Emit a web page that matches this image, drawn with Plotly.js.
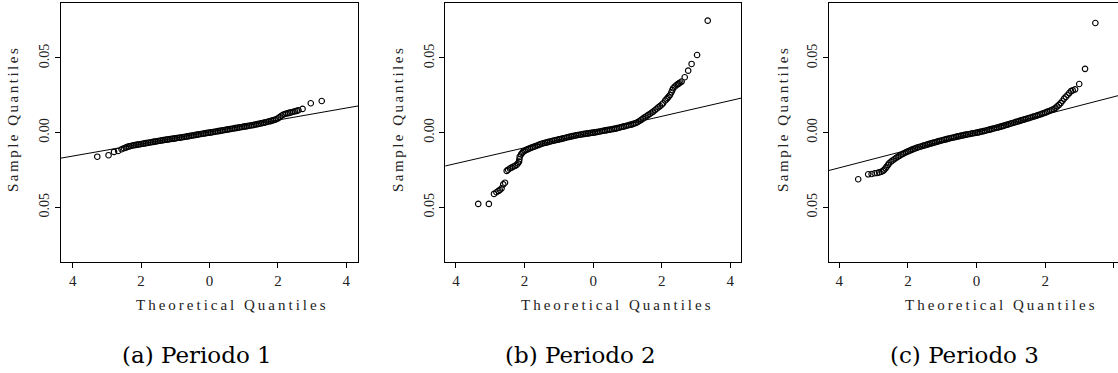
<!DOCTYPE html>
<html>
<head>
<meta charset="utf-8">
<script src="https://cdn.plot.ly/plotly-3.0.1.min.js"></script>
<style>html,body{margin:0;padding:0;background:#fff;overflow:hidden;}#chart{width:1118px;height:373px;}</style>
</head>
<body>
<div id="chart"></div>
<script>
// ---- Data: [theoretical quantile, sample quantile] ----
const period1 = [
  [-3.28,-0.0161],[-2.95,-0.0151],[-2.79,-0.0129],[-2.67,-0.0123],[-2.57,-0.0111],[-2.5,-0.0104],
  [-2.45,-0.0100],[-2.4,-0.0095],[-2.35,-0.0092],[-2.3,-0.0089],[-2.25,-0.0086],[-2.2,-0.0084],
  [-2.15,-0.0082],[-2.1,-0.0080],[-2.05,-0.0078],[-2.0,-0.0076],[-1.95,-0.0074],[-1.9,-0.0072],
  [-1.85,-0.0070],[-1.8,-0.0068],[-1.75,-0.0066],[-1.7,-0.0064],[-1.65,-0.0062],[-1.6,-0.0060],
  [-1.55,-0.0058],[-1.5,-0.0056],[-1.45,-0.0054],[-1.4,-0.0052],[-1.35,-0.0050],[-1.3,-0.0048],
  [-1.25,-0.0047],[-1.2,-0.0045],[-1.15,-0.0043],[-1.1,-0.0041],[-1.05,-0.0040],[-1.0,-0.0038],
  [-0.95,-0.0036],[-0.9,-0.0034],[-0.85,-0.0033],[-0.8,-0.0031],[-0.75,-0.0029],[-0.7,-0.0027],
  [-0.65,-0.0025],[-0.6,-0.0023],[-0.55,-0.0021],[-0.5,-0.0019],[-0.45,-0.0017],[-0.4,-0.0015],
  [-0.35,-0.0013],[-0.3,-0.0011],[-0.25,-0.0009],[-0.2,-0.0007],[-0.15,-0.0005],[-0.1,-0.0003],
  [-0.05,-0.0001],[0,0.0000],[0.05,0.0002],[0.1,0.0004],[0.15,0.0006],[0.2,0.0008],
  [0.25,0.0010],[0.3,0.0012],[0.35,0.0014],[0.4,0.0016],[0.45,0.0018],[0.5,0.0020],
  [0.55,0.0022],[0.6,0.0024],[0.65,0.0026],[0.7,0.0028],[0.75,0.0030],[0.8,0.0032],
  [0.85,0.0034],[0.9,0.0036],[0.95,0.0038],[1.0,0.0040],[1.05,0.0042],[1.1,0.0044],
  [1.15,0.0046],[1.2,0.0048],[1.25,0.0050],[1.3,0.0052],[1.35,0.0055],[1.4,0.0057],
  [1.45,0.0060],[1.5,0.0062],[1.55,0.0065],[1.6,0.0067],[1.65,0.0070],[1.7,0.0073],
  [1.75,0.0076],[1.8,0.0079],[1.85,0.0082],[1.9,0.0086],[1.95,0.0090],[2.0,0.0096],
  [2.05,0.0104],[2.1,0.0113],[2.15,0.0120],[2.2,0.0125],[2.25,0.0128],[2.3,0.0131],
  [2.35,0.0134],[2.4,0.0137],[2.45,0.0140],[2.5,0.0143],[2.55,0.0146],[2.6,0.0150],
  [2.72,0.0159],[2.96,0.0197],[3.28,0.0212]
];

const period2 = [
  [-3.35,-0.0477],[-3.04,-0.0477],[-2.89,-0.0410],[-2.82,-0.0399],[-2.76,-0.0390],[-2.72,-0.0384],
  [-2.67,-0.0373],[-2.62,-0.0346],[-2.57,-0.0335],[-2.52,-0.0256],[-2.48,-0.0248],[-2.43,-0.0240],
  [-2.38,-0.0234],[-2.33,-0.0228],[-2.28,-0.0222],[-2.23,-0.0216],[-2.19,-0.0205],[-2.16,-0.0194],
  [-2.15,-0.0178],[-2.14,-0.0161],[-2.10,-0.0145],[-2.07,-0.0136],[-2.04,-0.0127],[-2.0,-0.0122],
  [-1.95,-0.0115],[-1.9,-0.0110],[-1.85,-0.0105],[-1.8,-0.0100],[-1.75,-0.0096],[-1.7,-0.0092],
  [-1.65,-0.0088],[-1.6,-0.0083],[-1.55,-0.0078],[-1.5,-0.0074],[-1.45,-0.0071],[-1.4,-0.0068],
  [-1.35,-0.0065],[-1.3,-0.0062],[-1.25,-0.0059],[-1.2,-0.0056],[-1.15,-0.0053],[-1.1,-0.0051],
  [-1.05,-0.0048],[-1.0,-0.0045],[-0.95,-0.0043],[-0.9,-0.0040],[-0.85,-0.0037],[-0.8,-0.0034],
  [-0.75,-0.0031],[-0.7,-0.0028],[-0.65,-0.0026],[-0.6,-0.0023],[-0.55,-0.0021],[-0.5,-0.0018],
  [-0.45,-0.0016],[-0.4,-0.0014],[-0.35,-0.0012],[-0.3,-0.0010],[-0.25,-0.0008],[-0.2,-0.0006],
  [-0.15,-0.0005],[-0.1,-0.0003],[-0.05,-0.0001],[0,0.0000],[0.05,0.0002],[0.1,0.0004],
  [0.15,0.0006],[0.2,0.0008],[0.25,0.0011],[0.3,0.0013],[0.35,0.0015],[0.4,0.0017],
  [0.45,0.0019],[0.5,0.0021],[0.55,0.0023],[0.6,0.0025],[0.65,0.0027],[0.7,0.0030],
  [0.75,0.0033],[0.8,0.0036],[0.85,0.0039],[0.9,0.0042],[0.95,0.0045],[1.0,0.0048],
  [1.05,0.0051],[1.1,0.0054],[1.15,0.0057],[1.2,0.0061],[1.25,0.0065],[1.3,0.0071],
  [1.35,0.0078],[1.4,0.0086],[1.45,0.0094],[1.5,0.0102],[1.55,0.0110],[1.6,0.0117],
  [1.65,0.0125],[1.7,0.0133],[1.75,0.0141],[1.8,0.0150],[1.85,0.0160],[1.9,0.0169],
  [1.95,0.0178],[2.0,0.0188],[2.04,0.0197],[2.1,0.0215],[2.14,0.0224],[2.17,0.0232],
  [2.2,0.0241],[2.24,0.0252],[2.28,0.0270],[2.31,0.0285],[2.33,0.0297],[2.38,0.0308],
  [2.43,0.0319],[2.47,0.0325],[2.5,0.0330],[2.54,0.0336],[2.58,0.0342],[2.67,0.0371],
  [2.77,0.0415],[2.87,0.0460],[3.03,0.0520],[3.34,0.0750]
];

const period3 = [
  [-3.45,-0.0312],[-3.16,-0.0279],[-3.06,-0.0277],[-2.97,-0.0272],[-2.90,-0.0270],[-2.84,-0.0266],
  [-2.77,-0.0261],[-2.72,-0.0255],[-2.69,-0.0248],[-2.65,-0.0238],[-2.62,-0.0228],[-2.58,-0.0216],
  [-2.55,-0.0205],[-2.5,-0.0195],[-2.45,-0.0186],[-2.4,-0.0178],[-2.35,-0.0170],[-2.3,-0.0162],
  [-2.25,-0.0155],[-2.2,-0.0148],[-2.15,-0.0142],[-2.1,-0.0136],[-2.05,-0.0130],[-2.0,-0.0125],
  [-1.95,-0.0120],[-1.9,-0.0115],[-1.85,-0.0110],[-1.8,-0.0106],[-1.75,-0.0102],[-1.7,-0.0098],
  [-1.65,-0.0094],[-1.6,-0.0091],[-1.55,-0.0087],[-1.5,-0.0084],[-1.45,-0.0080],[-1.4,-0.0077],
  [-1.35,-0.0073],[-1.3,-0.0070],[-1.25,-0.0067],[-1.2,-0.0064],[-1.15,-0.0060],[-1.1,-0.0057],
  [-1.05,-0.0054],[-1.0,-0.0051],[-0.95,-0.0048],[-0.9,-0.0045],[-0.85,-0.0042],[-0.8,-0.0039],
  [-0.75,-0.0036],[-0.7,-0.0034],[-0.65,-0.0031],[-0.6,-0.0028],[-0.55,-0.0025],[-0.5,-0.0023],
  [-0.45,-0.0020],[-0.4,-0.0018],[-0.35,-0.0015],[-0.3,-0.0013],[-0.25,-0.0011],[-0.2,-0.0009],
  [-0.15,-0.0006],[-0.1,-0.0004],[-0.05,-0.0002],[0,0.0000],[0.05,0.0002],[0.1,0.0005],
  [0.15,0.0008],[0.2,0.0010],[0.25,0.0013],[0.3,0.0016],[0.35,0.0019],[0.4,0.0022],
  [0.45,0.0025],[0.5,0.0028],[0.55,0.0031],[0.6,0.0034],[0.65,0.0037],[0.7,0.0040],
  [0.75,0.0044],[0.8,0.0047],[0.85,0.0051],[0.9,0.0054],[0.95,0.0058],[1.0,0.0061],
  [1.05,0.0065],[1.1,0.0068],[1.15,0.0072],[1.2,0.0075],[1.25,0.0079],[1.3,0.0082],
  [1.35,0.0086],[1.4,0.0089],[1.45,0.0093],[1.5,0.0096],[1.55,0.0100],[1.6,0.0103],
  [1.65,0.0107],[1.7,0.0110],[1.75,0.0114],[1.8,0.0118],[1.85,0.0122],[1.9,0.0126],
  [1.95,0.0130],[2.0,0.0134],[2.05,0.0139],[2.1,0.0143],[2.15,0.0148],[2.2,0.0153],
  [2.25,0.0158],[2.3,0.0166],[2.35,0.0176],[2.4,0.0186],[2.45,0.0198],[2.5,0.0212],
  [2.55,0.0228],[2.6,0.0240],[2.65,0.0252],[2.7,0.0265],[2.75,0.0278],[2.8,0.0283],
  [2.87,0.0290],[2.99,0.0326],[3.16,0.0427],[3.46,0.0734]
];

// qq reference lines (endpoints)
const lineX = [-4.5, 4.5];
const line1Y = [-0.0177, 0.0185];
const line2Y = [-0.0233, 0.0241];
const line3Y = [-0.0265, 0.0270];

// tick labels as printed in the reference
const xTickVals = [-4, -2, 0, 2, 4];
const xTickText = ["4", "2", "0", "2", "4"];
const yTickVals = [-0.05, 0, 0.05];
const yTickText = ["0.05", "0.00", "0.05"];

const captions = ["(a) Periodo 1", "(b) Periodo 2", "(c) Periodo 3"];
const xTitle = "Theoretical Quantiles";
const yTitle = "Sample Quantiles";

// ---- Layout helpers ----
const W = 1118, H = 373;
const serif = "'Liberation Serif', 'Times New Roman', serif";
const textCol = "#222";
const yRange = [-0.0864, 0.0866];

function pts(data, n) {
  return {x: data.map(d => d[0]), y: data.map(d => d[1]), xaxis: 'x' + n, yaxis: 'y' + n,
    type: 'scatter', mode: 'markers',
    marker: {symbol: 'circle-open', size: 5.5, color: '#000', line: {width: 1.1, color: '#000'}},
    hoverinfo: 'skip', showlegend: false};
}
function ln(y, n) {
  return {x: lineX, y: y, xaxis: 'x' + n, yaxis: 'y' + n, type: 'scatter', mode: 'lines',
    line: {color: '#000', width: 1}, hoverinfo: 'skip', showlegend: false};
}
// last tick label of panel (c) lies at the page edge where Plotly drops it: draw it as an unclipped text mark
const lastTick = xTickVals.length - 1;
const yPerPx = (yRange[1] - yRange[0]) / (261.7 - 3.3);
const edgeLabel = {x: [xTickVals[lastTick]], y: [yRange[0] - (280 - 261.7) * yPerPx], xaxis: 'x3', yaxis: 'y3',
  type: 'scatter', mode: 'text', text: [xTickText[lastTick]], textposition: 'middle center', cliponaxis: false,
  textfont: {family: serif, size: 15, color: textCol}, hoverinfo: 'skip', showlegend: false};
const traces = [ln(line1Y, ''), pts(period1, ''), ln(line2Y, 2), pts(period2, 2), ln(line3Y, 3), pts(period3, 3), edgeLabel];

const yDom = [1 - 261.7 / H, 1 - 3.3 / H];
function xa(dom, rng, anchor, texts) {
  return {domain: dom, range: rng, anchor: anchor, showline: true, mirror: true, linecolor: '#000', linewidth: 1,
    showgrid: false, zeroline: false, ticks: 'outside', ticklen: 5, tickcolor: '#000', tickwidth: 1,
    tickvals: xTickVals, ticktext: texts, tickfont: {family: serif, size: 15, color: textCol}};
}
function ya(anchor, mirror) {
  return {domain: yDom, range: yRange, anchor: anchor, showline: true, mirror: mirror,
    linecolor: '#000', linewidth: 1, showgrid: false, zeroline: false, ticks: 'outside', ticklen: 5,
    tickcolor: '#000', tickwidth: 1, tickvals: yTickVals, ticktext: yTickText, tickangle: -90,
    tickfont: {family: serif, size: 14, color: textCol}};
}

const xTitlePx = [232, 617, 1001];
const yTitlePx = [13, 398, 783];
const capPx = [197, 580, 964];
const annotations = [];
for (let i = 0; i < 3; i++) {
  annotations.push({xref: 'paper', yref: 'paper', x: xTitlePx[i] / W, y: 1 - 305 / H, xanchor: 'center', yanchor: 'middle',
    showarrow: false, text: '<span style="letter-spacing:3px">' + xTitle + '</span>', font: {family: serif, size: 15, color: textCol}});
  annotations.push({xref: 'paper', yref: 'paper', x: yTitlePx[i] / W, y: 1 - 119 / H, xanchor: 'center', yanchor: 'middle',
    showarrow: false, textangle: -90, text: '<span style="letter-spacing:2.5px">' + yTitle + '</span>', font: {family: serif, size: 15, color: textCol}});
  annotations.push({xref: 'paper', yref: 'paper', x: capPx[i] / W, y: 1 - 355 / H, xanchor: 'center', yanchor: 'middle',
    showarrow: false, text: captions[i], font: {family: "'DejaVu Serif', serif", size: 23, color: '#000'}});
}
const xTickText3 = xTickText.map((t, i) => i === lastTick ? '' : t);

const layout = {
  width: W, height: H, margin: {l: 0, r: 0, t: 0, b: 0},
  paper_bgcolor: '#fff', plot_bgcolor: '#fff', showlegend: false,
  xaxis: xa([61 / W, 358 / W], [-4.34, 4.34], 'y', xTickText),
  yaxis: ya('x', true),
  xaxis2: xa([445.3 / W, 741 / W], [-4.31, 4.31], 'y2', xTickText),
  yaxis2: ya('x2', true),
  xaxis3: xa([828.7 / W, 1], [-4.31, 4.12], 'y3', xTickText3),
  yaxis3: ya('x3', false),
  annotations: annotations
};

Plotly.newPlot('chart', traces, layout, {staticPlot: true, displayModeBar: false});
</script>
</body>
</html>
